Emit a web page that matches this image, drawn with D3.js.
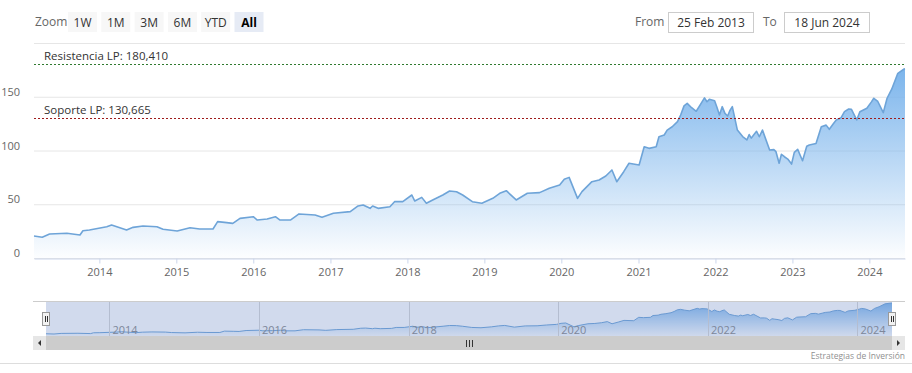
<!DOCTYPE html>
<html>
<head>
<meta charset="utf-8">
<script src="https://cdn.jsdelivr.net/npm/d3@7"></script>
<style>
  body { margin: 0; background: #fff; }
  text { font-family: "Open Sans", sans-serif; }
</style>
</head>
<body>
<div id="chart"></div>
<script>

// price data
var dates = ["2013-02-25","2013-04-05","2013-05-10","2013-07-31","2013-10-01","2013-10-15","2013-11-15",
  "2014-02-05","2014-02-28","2014-05-10","2014-06-10","2014-07-27","2014-10-01","2014-10-30",
  "2015-01-05","2015-03-07","2015-04-22","2015-06-24","2015-07-16","2015-08-28","2015-09-26","2015-10-30",
  "2016-01-01","2016-01-20","2016-03-07","2016-04-15","2016-05-07","2016-06-25","2016-08-05","2016-10-20","2016-11-22",
  "2017-01-15","2017-04-05","2017-05-12","2017-06-05","2017-07-08","2017-07-20","2017-08-15","2017-10-10","2017-11-01","2017-12-10",
  "2018-01-22","2018-02-05","2018-03-10","2018-04-01","2018-05-01","2018-06-18","2018-07-20","2018-08-22","2018-09-20","2018-11-05","2018-12-20",
  "2019-02-10","2019-03-15","2019-04-15","2019-06-01","2019-07-24","2019-09-20","2019-11-05","2019-12-24",
  "2020-01-15","2020-02-07","2020-03-18","2020-04-08","2020-05-25","2020-06-28","2020-07-30","2020-08-28","2020-09-20","2020-10-23","2020-11-17",
  "2021-01-04","2021-01-28","2021-02-20","2021-03-26","2021-04-08","2021-05-03","2021-05-17","2021-06-10","2021-07-05","2021-07-20","2021-08-05","2021-08-20","2021-09-10","2021-10-02","2021-10-25","2021-11-10","2021-11-22","2021-12-03","2021-12-28",
  "2022-01-08","2022-01-20","2022-02-02","2022-02-15","2022-02-28","2022-03-10","2022-03-22","2022-04-15","2022-05-10","2022-05-30","2022-06-10","2022-06-20","2022-07-01","2022-07-15","2022-07-28","2022-08-12","2022-09-15","2022-10-05","2022-10-15","2022-10-30","2022-11-10","2022-11-24","2022-12-10","2022-12-28",
  "2023-01-10","2023-01-26","2023-02-18","2023-03-10","2023-03-22","2023-04-23","2023-05-18","2023-06-10","2023-06-25","2023-07-15","2023-07-28","2023-08-20","2023-09-05","2023-09-25","2023-10-08","2023-11-02","2023-11-17","2023-12-20",
  "2024-01-10","2024-01-22","2024-02-10","2024-03-07","2024-03-25","2024-04-16","2024-05-15","2024-06-14","2024-06-18"];

var closes = [20.5,19.3,22.3,23,21.4,25.4,26,
  29,30.7,26,28.5,29.8,29,26.7,
  25.1,28.2,27,27,33.8,32.9,32.2,36.9,
  38.4,35.3,36.3,38.4,35.3,35.3,41,40,37.8,
  41.6,43.1,48.4,49.3,46.2,48.4,46.2,47.7,52.4,52.4,
  58.6,53,56.4,50.9,54,58.6,62.3,61.7,58.6,52.4,50.9,
  55.5,60.2,62.6,54,60.2,60.8,64.8,67.9,
  73.2,75,55.5,61.7,71,72.6,76.3,81.9,71,80.3,88.1,
  86.5,103.5,102,103.5,112.8,114.4,119,122.1,126.8,133,141.5,143.9,139.8,136.5,143.9,149,145.4,147.6,146.3,
  140.2,133,140.8,134.5,132.1,137,140.8,119,113,109.8,114.8,111.5,114.4,117.8,112.8,119,100.5,100.8,98.9,88.1,96.5,94.2,92,87.4,
  98.2,101.1,90.5,104,105.1,106.5,122.1,123.6,119.7,125.1,128.4,130.5,136.1,138.6,138.3,128.4,136.1,139.3,
  145,148.6,145.6,135.2,148.6,157,171.8,175.8,176];

var yTicks = [0, 50, 100, 150, 200];

// resistance / support lines
var levelNames = ["Resistencia LP", "Soporte LP"];
var levelValues = [180.41, 130.665];
var levelLabels = ["180,410", "130,665"];
var levelColors = ["#2f7a2f", "#9e1b1b"];

var zoomButtons = ["1W", "1M", "3M", "6M", "YTD", "All"];
var rangeFrom = "25 Feb 2013",
    rangeTo = "18 Jun 2024";
var credits = "Estrategias de Inversión";

var width = 912, height = 373;

var parseDate = d3.timeParse("%Y-%m-%d");
var data = dates.map(function(d, i) { return { date: parseDate(d), close: closes[i] }; });

var svg = d3.select("#chart").append("svg")
    .attr("width", width)
    .attr("height", height);

svg.append("rect").attr("width", width).attr("height", height).attr("fill", "#fff");

var defs = svg.append("defs");
var grad = defs.append("linearGradient")
    .attr("id", "areaGrad")
    .attr("x1", 0).attr("y1", 0).attr("x2", 0).attr("y2", 1);
grad.append("stop").attr("offset", 0).attr("stop-color", "#7cb5ec").attr("stop-opacity", 1);
grad.append("stop").attr("offset", 1).attr("stop-color", "#7cb5ec").attr("stop-opacity", 0.02);

// main chart scales
var x = d3.scaleTime()
    .domain(d3.extent(data, function(d) { return d.date; }))
    .range([34, 905]);
var y = d3.scaleLinear()
    .domain([0, 200])
    .range([258, 43]);

// gridlines
svg.append("g").selectAll("line")
    .data(yTicks)
  .enter().append("line")
    .attr("x1", 34).attr("x2", 905)
    .attr("y1", function(d) { return y(d) + 0.5; })
    .attr("y2", function(d) { return y(d) + 0.5; })
    .attr("stroke", "#e6e6e6");

// y labels (last one hidden)
svg.append("g").selectAll("text")
    .data(yTicks.slice(0, -1))
  .enter().append("text")
    .attr("x", 20)
    .attr("y", function(d) { return y(d) - 1; })
    .attr("text-anchor", "end")
    .attr("font-size", 11)
    .attr("fill", "#666")
    .text(function(d) { return d; });

// area + line
var area = d3.area()
    .x(function(d) { return x(d.date); })
    .y0(y(0))
    .y1(function(d) { return y(d.close); });
var line = d3.line()
    .x(function(d) { return x(d.date); })
    .y(function(d) { return y(d.close); });

svg.append("path")
    .datum(data)
    .attr("d", area)
    .attr("fill", "url(#areaGrad)");
svg.append("path")
    .datum(data)
    .attr("d", line)
    .attr("fill", "none")
    .attr("stroke", "#6ea4d8")
    .attr("stroke-width", 1.6)
    .attr("stroke-linejoin", "round");

// x axis
var xAxis = svg.append("g")
    .attr("transform", "translate(0," + 258.5 + ")")
    .call(d3.axisBottom(x)
      .ticks(d3.timeYear.every(1))
      .tickFormat(d3.timeFormat("%Y"))
      .tickSize(5)
      .tickSizeOuter(0)
      .tickPadding(5));
xAxis.select(".domain").attr("stroke", "#ccd6eb");
xAxis.selectAll(".tick line").attr("stroke", "#ccd6eb");
xAxis.selectAll(".tick text")
    .attr("fill", "#666")
    .attr("font-size", 11)
    .attr("font-family", "Open Sans, sans-serif");

// resistance & support
levelValues.forEach(function(v, i) {
  svg.append("line")
      .attr("x1", 34).attr("x2", 905)
      .attr("y1", Math.round(y(v)) + 0.5).attr("y2", Math.round(y(v)) + 0.5)
      .attr("stroke", levelColors[i])
      .attr("stroke-dasharray", "2,2");
  svg.append("text")
      .attr("x", 44)
      .attr("y", y(v) - 4)
      .attr("font-size", 11.5)
      .attr("fill", "#333")
      .text(levelNames[i] + ": " + levelLabels[i]);
});

// range selector
svg.append("text")
    .attr("x", 35).attr("y", 26)
    .attr("font-size", 12)
    .attr("fill", "#666")
    .text("Zoom");

var btn = svg.append("g").selectAll("g")
    .data(zoomButtons)
  .enter().append("g")
    .attr("transform", function(d, i) { return "translate(" + (68 + i * 33.3) + ",12)"; });
btn.append("rect")
    .attr("width", 29).attr("height", 20)
    .attr("fill", function(d) { return d == "All" ? "#e6ebf5" : "#f7f7f7"; });
btn.append("text")
    .attr("x", 14.5).attr("y", 14.5)
    .attr("text-anchor", "middle")
    .attr("font-size", 12)
    .attr("font-weight", function(d) { return d == "All" ? "bold" : "normal"; })
    .attr("fill", function(d) { return d == "All" ? "#000" : "#333"; })
    .text(function(d) { return d; });

// from / to inputs
svg.append("text").attr("x", 635).attr("y", 26).attr("font-size", 12).attr("fill", "#666").text("From");
svg.append("text").attr("x", 763).attr("y", 26).attr("font-size", 12).attr("fill", "#666").text("To");
[[668, rangeFrom], [784, rangeTo]].forEach(function(b) {
  svg.append("rect")
      .attr("x", b[0] + 0.5).attr("y", 12.5)
      .attr("width", 85).attr("height", 20)
      .attr("fill", "#fff").attr("stroke", "#ccc");
  svg.append("text")
      .attr("x", b[0] + 43).attr("y", 26.5)
      .attr("text-anchor", "middle")
      .attr("font-size", 12)
      .attr("fill", "#333")
      .text(b[1]);
});

// navigator
var nx = d3.scaleTime()
    .domain(x.domain())
    .range([46, 892]);
var ny = d3.scaleLinear()
    .domain(d3.extent(closes))
    .range([334, 303]);

var navArea = d3.area()
    .x(function(d) { return nx(d.date); })
    .y0(336)
    .y1(function(d) { return ny(d.close); });
var navLine = d3.line()
    .x(function(d) { return nx(d.date); })
    .y(function(d) { return ny(d.close); });

svg.append("path").datum(data).attr("d", navArea).attr("fill", "url(#areaGrad)");
svg.append("path").datum(data).attr("d", navLine)
    .attr("fill", "none").attr("stroke", "#6ca3d8").attr("stroke-width", 1);

var navTicks = nx.ticks(d3.timeYear.every(2));
svg.append("g").selectAll("line")
    .data(navTicks)
  .enter().append("line")
    .attr("x1", function(d) { return Math.round(nx(d)) + 0.5; })
    .attr("x2", function(d) { return Math.round(nx(d)) + 0.5; })
    .attr("y1", 301).attr("y2", 336)
    .attr("stroke", "#d6d6d6");
svg.append("g").selectAll("text")
    .data(navTicks)
  .enter().append("text")
    .attr("x", function(d) { return nx(d) + 3; })
    .attr("y", 334)
    .attr("font-size", 11)
    .attr("fill", "#888")
    .text(d3.timeFormat("%Y"));

// mask over the selected range
svg.append("rect")
    .attr("x", 46).attr("y", 301)
    .attr("width", 846).attr("height", 35)
    .attr("fill", "rgba(102,133,194,0.3)");
svg.append("line")
    .attr("x1", 33).attr("x2", 905)
    .attr("y1", 301.5).attr("y2", 301.5)
    .attr("stroke", "#ccc");

// handles
[46, 892].forEach(function(hx) {
  svg.append("rect")
      .attr("x", hx - 3.5).attr("y", 312.5)
      .attr("width", 7).attr("height", 13)
      .attr("fill", "#f2f2f2").attr("stroke", "#999");
  [-1, 1].forEach(function(o) {
    svg.append("line")
        .attr("x1", hx + o + 0.5).attr("x2", hx + o + 0.5)
        .attr("y1", 316).attr("y2", 322)
        .attr("stroke", "#333");
  });
});

// scrollbar
svg.append("rect").attr("x", 33).attr("y", 336).attr("width", 872).attr("height", 14).attr("fill", "#f2f2f2");
svg.append("rect").attr("x", 46).attr("y", 336).attr("width", 846).attr("height", 14).attr("fill", "#ccc");
[33, 892].forEach(function(bx, i) {
  svg.append("rect").attr("x", bx).attr("y", 336).attr("width", 13).attr("height", 14).attr("fill", "#e6e6e6");
  var cx = bx + 6.5;
  var pts = i == 0
    ? [[cx + 1.5, 340], [cx + 1.5, 346], [cx - 1.5, 343]]
    : [[cx - 1.5, 340], [cx - 1.5, 346], [cx + 1.5, 343]];
  svg.append("path").attr("d", d3.line()(pts) + "Z").attr("fill", "#333");
});
[-3, 0, 3].forEach(function(o) {
  svg.append("line")
      .attr("x1", 469 + o + 0.5).attr("x2", 469 + o + 0.5)
      .attr("y1", 340).attr("y2", 347)
      .attr("stroke", "#333");
});

// credits + bottom border
svg.append("text")
    .attr("x", 905).attr("y", 359)
    .attr("text-anchor", "end")
    .attr("font-size", 8.5)
    .attr("fill", "#909090")
    .text(credits);
svg.append("line")
    .attr("x1", 0).attr("x2", width)
    .attr("y1", 363.5).attr("y2", 363.5)
    .attr("stroke", "#ddd");

</script>
</body>
</html>
